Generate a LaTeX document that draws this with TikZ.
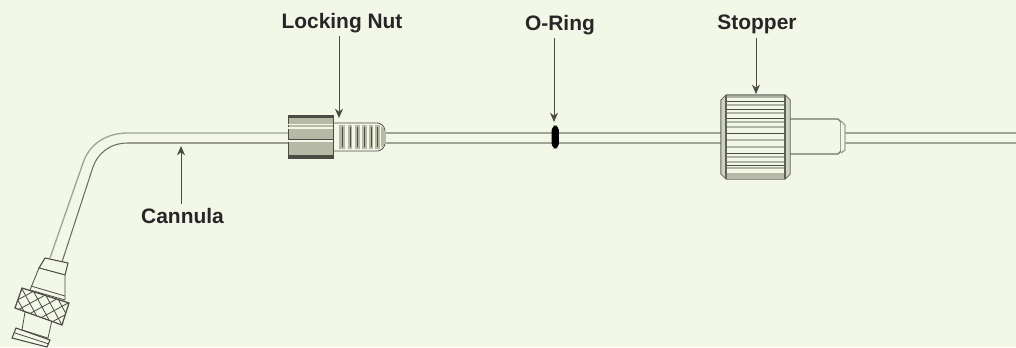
\documentclass[tikz,border=0pt]{standalone}
\usepackage{fontspec}
\setmainfont{Liberation Sans}
\usetikzlibrary{arrows.meta}
\definecolor{paper}{HTML}{F3F7E8}
\definecolor{tubegrey}{HTML}{A0A493}
\definecolor{partgrey}{HTML}{B5B9A6}
\definecolor{partdark}{HTML}{4A4C44}

\begin{document}
\begin{tikzpicture}[x=0.75pt,y=-0.75pt,
    partlabel/.style={font=\bfseries\fontsize{15.7}{18}\selectfont, text=black!85, inner sep=0pt},
    pointer/.style={-{Stealth[length=7pt,width=6pt]}, draw=partdark, line width=0.6pt},
    tube/.style={draw=tubegrey, line width=1.5pt},
    outline/.style={draw=partdark, line width=0.6pt},
    rib/.style={draw=partdark, line width=0.55pt},
    softrib/.style={draw=tubegrey!80!paper, line width=1.2pt}]
    \fill[paper] (0,0) rectangle (1016,347);
    \useasboundingbox (0,0) rectangle (1016,347);
    % tube
    \draw[tube] (386,133) -- (552,133) (559,133) -- (721,133) (845,133) -- (1016,133);
    \draw[tube] (386,142.5) -- (552,142.5) (559,142.5) -- (721,142.5) (845,142.5) -- (1016,142.5);
    \draw[tube, line width=1pt] (288,133) -- (128,133) .. controls (105,133) and (89,145) .. (83,163) -- (50,258);
    \draw[outline, draw=partdark!80!paper, line width=0.8pt] (288,143) -- (128,143) .. controls (110,143) and (97,153) .. (92,170) -- (62,262);
    % connector at the far end
    \draw[outline, line width=0.8pt, fill=paper] (45,258) -- (68,263) -- (65,275) -- (39,268) -- cycle;
    \draw[outline, fill=paper] (39,268) -- (65,275) -- (65,300) -- (30,290) -- cycle;
    \draw[outline] (31,286) -- (65,296);
    \draw[outline, fill=paper] (25,312) -- (22,330) -- (48,338) -- (52,320) -- cycle;
    \begin{scope}
      \clip (22,288) -- (69,303) -- (62,325) -- (15,308) -- cycle;
      \fill[paper] (0,280) rectangle (80,330);
      \foreach \k in {-6,...,6} {
        \draw[partdark, line width=0.6pt] ({42+\k*7.9-19},{307-\k*4.2-35}) -- ++(38,70);
        \draw[partdark, line width=0.6pt] ({42+\k*4.2-35},{307+\k*7.9+19}) -- ++(70,-38);
      }
    \end{scope}
    \draw[outline, line width=0.9pt] (22,288) -- (69,303) -- (62,325) -- (15,308) -- cycle;
    \draw[outline, line width=0.8pt, fill=paper] (16,328) -- (50,340) -- (47,347) -- (12,338) -- cycle;
    \draw[outline] (15,333) -- (49,344);
    % locking nut
    \draw[outline, fill=paper, rounded corners=2pt] (330,123) -- (380,123) -- (385,128) -- (385,146) -- (380,151) -- (330,151) -- cycle;
    \foreach \x/\w in {339/6,348/4,355/5,362/5,369/4,375/5} {
      \fill[partgrey] (\x,125) rectangle (\x+\w,149);
      \draw[partdark, line width=0.5pt] (\x+\w/2,127) -- (\x+\w/2,147);
    }
    \fill[partgrey] (381,127) rectangle (384,147);
    \draw[outline, fill=partgrey] (288,115) rectangle (333,158);
    \fill[partdark] (288,115) rectangle (333,118);
    \fill[partdark] (288,155) rectangle (333,158);
    \draw[paper, line width=1pt] (288,124.5) -- (333,124.5) (288,128) -- (333,128);
    \draw[paper, line width=1pt] (288,141) -- (333,141);
    \draw[rib] (288,139) -- (333,139);
    % o-ring
    \draw[black, fill=black, rounded corners=3pt] (552,126) rectangle (558.5,148);
    % stopper
    \draw[draw=tubegrey!70!black, line width=1pt, fill=paper] (790,119) -- (838,119) -- (841,122) -- (841,151) -- (838,154) -- (790,154);
    \draw[draw=tubegrey, line width=1pt, fill=paper] (841,121) -- (845,125) -- (845,150) -- (841,153);
    \draw[draw=tubegrey!60!black, line width=0.8pt, fill=paper] (726,95) -- (785,95) -- (790,100) -- (790,174) -- (785,179) -- (726,179) -- (721,174) -- (721,100) -- cycle;
    \fill[partgrey!60!paper] (721.5,100) -- (726,95.5) -- (726,178.5) -- (721.5,174) -- cycle;
    \fill[partgrey!60!paper] (789.5,100) -- (785,95.5) -- (785,178.5) -- (789.5,174) -- cycle;
    \fill[partgrey] (726,173) rectangle (785,178.5);
    \foreach \y in {97,105,113,122,127,140,147,157,162,168} {
      \draw[softrib] (726,\y) -- (785,\y);
    }
    \foreach \y in {101,109,118,133,153,165} {
      \draw[rib] (726,\y) -- (785,\y);
    }
    \draw[tubegrey!60!black, line width=0.8pt] (726,95) -- (726,179) (785,95) -- (785,179);
    % labels
    \node[partlabel] (locknut) at (342,23) {Locking Nut};
    \node[partlabel] (oring) at (560,25) {O-Ring};
    \node[partlabel] (stopper) at (757,24) {Stopper};
    \node[partlabel] (cannula) at (182.5,216) {Cannula};
    \coordinate (locknutend) at (339,118);
    \coordinate (oringend) at (554,122);
    \coordinate (stopperend) at (756,94);
    \coordinate (cannulaend) at (181,146);
    \draw[pointer] (339,36) -- (locknutend);
    \draw[pointer] (554,38) -- (oringend);
    \draw[pointer] (756,38) -- (stopperend);
    \draw[pointer] (181,204) -- (cannulaend);
\end{tikzpicture}
\end{document}
